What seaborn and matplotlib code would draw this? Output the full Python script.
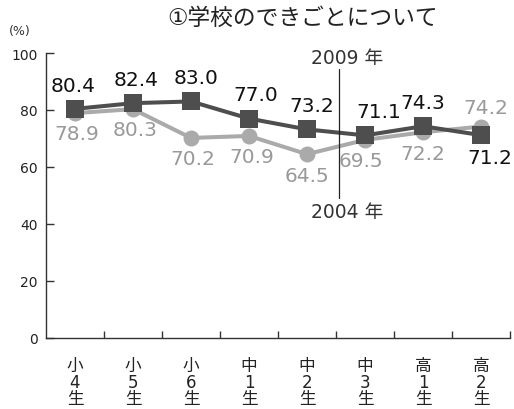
import matplotlib
matplotlib.use("Agg")
import matplotlib.pyplot as plt
import seaborn as sns
import pandas as pd

grades = ["小4生", "小5生", "小6生", "中1生", "中2生", "中3生", "高1生", "高2生"]
values_2009 = [80.4, 82.4, 83.0, 77.0, 73.2, 71.1, 74.3, 71.2]
values_2004 = [78.9, 80.3, 70.2, 70.9, 64.5, 69.5, 72.2, 74.2]
years = ["2004", "2009"]

sns.set_theme(style="white")
plt.rcParams['font.family'] = ['DejaVu Sans', 'Noto Sans CJK JP']

df = pd.DataFrame({
    "x": list(range(len(grades))) * 2,
    "value": values_2004 + values_2009,
    "year": ["2004"] * len(grades) + ["2009"] * len(grades),
})

dark = "#4e4e4e"
light = "#aaaaaa"

fig = plt.figure(figsize=(5.14, 4.10), dpi=100)
ax = fig.add_axes([46/514, 1-339/410, (510-46)/514, (339-54)/410])

sns.lineplot(data=df, x="x", y="value", hue="year", style="year", hue_order=years,
             style_order=years, palette={"2004": light, "2009": dark},
             markers={"2004": "o", "2009": "s"}, dashes=False, linewidth=2.9,
             markeredgewidth=0, legend=False, ax=ax)
for line in ax.lines:
    if line.get_marker() == "s":
        line.set_markersize(13)
    else:
        line.set_markersize(11.5)

ax.set_xlim(-0.5, 7.5)
ax.set_ylim(0, 100)
ax.set_xlabel("")
ax.set_ylabel("")

# labels
dx09 = [-2, 3, 5, 7, 5, 14, 0, 9]
dx04 = [2, 2, 2, 3, 0, -4, 0, 5]
for i, (a, b) in enumerate(zip(values_2009, values_2004)):
    up09 = a >= b
    ax.annotate(f"{a:.1f}", (i, a), xytext=(dx09[i]*0.72, 17 if up09 else -16),
                textcoords="offset points", ha="center", va="center",
                fontsize=14.5, color="#111111", annotation_clip=False)
    ax.annotate(f"{b:.1f}", (i, b), xytext=(dx04[i]*0.72, -15 if up09 else 14),
                textcoords="offset points", ha="center", va="center",
                fontsize=14.5, color="#999999", annotation_clip=False)

# year marker line
ax.plot([4.55, 4.55], [49, 94.5], color="#222222", linewidth=0.9)
ax.text(4.7, 98.3, "2009 年", ha="center", va="center", fontsize=13.5, color="#333333")
ax.text(4.7, 44.3, "2004 年", ha="center", va="center", fontsize=13.5, color="#333333")

# axes styling
for s in ["top", "right"]:
    ax.spines[s].set_visible(False)
for s in ["left", "bottom"]:
    ax.spines[s].set_color("#333333")
    ax.spines[s].set_linewidth(1.0)

ax.set_yticks([0, 20, 40, 60, 80, 100])
ax.set_yticklabels(["0", "20", "40", "60", "80", "100"], fontsize=10, color="#222222")
ax.tick_params(axis="y", direction="in", length=6, width=1, color="#333333", pad=6, left=True)

ax.set_xticks(range(len(grades)))
ax.set_xticklabels(["\n".join(g) for g in grades], fontsize=12, color="#222222",
                   linespacing=0.9)
ax.tick_params(axis="x", which="major", length=0, pad=13)
ax.set_xticks([i + 0.5 for i in range(len(grades))], minor=True)
ax.tick_params(axis="x", which="minor", direction="in", length=5, width=1,
               color="#333333", bottom=True)

fig.text(303/514, 1-18/410, "①学校のできごとについて", ha="center", va="center",
         fontsize=16.4, color="#222222")
fig.text(20/514, 1-31/410, "(%)", ha="center", va="center", fontsize=9, color="#333333")

fig.savefig("out.png", dpi=100)
